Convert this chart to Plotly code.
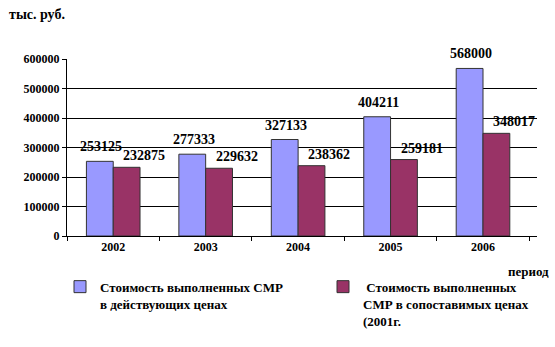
import plotly.graph_objects as go

years = ["2002", "2003", "2004", "2005", "2006"]
current_prices = [253125, 277333, 327133, 404211, 568000]
comparable_prices = [232875, 229632, 238362, 259181, 348017]
name_current = "<b>Стоимость выполненных СМР<br>в действующих ценах</b>"
name_comparable = "<b> Стоимость выполненных<br>СМР в сопоставимых ценах<br>(2001г.</b>"

FONT = "Liberation Serif"
fig = go.Figure()
fig.add_bar(x=years, y=current_prices, name=name_current, legend="legend",
            marker=dict(color="#9999FF", line=dict(color="#333333", width=1)))
fig.add_bar(x=years, y=comparable_prices, name=name_comparable, legend="legend2",
            marker=dict(color="#993366", line=dict(color="#333333", width=1)))

for i, y in enumerate(years):
    fig.add_annotation(x=i, y=current_prices[i], text=f"<b>{current_prices[i]}</b>",
                       showarrow=False, yanchor="bottom", xshift=-12, yshift=5,
                       font=dict(family=FONT, size=14, color="black"))
    fig.add_annotation(x=i, y=comparable_prices[i], text=f"<b>{comparable_prices[i]}</b>",
                       showarrow=False, yanchor="bottom", xshift=31, yshift=2,
                       font=dict(family=FONT, size=14, color="black"))

fig.add_annotation(xref="paper", yref="paper", x=-0.128, y=1.254, xanchor="left", yanchor="middle",
                   text="<b>тыс. руб.</b>", showarrow=False,
                   font=dict(family=FONT, size=14, color="black"))
fig.add_annotation(xref="paper", yref="paper", x=1.03, y=-0.203, xanchor="right", yanchor="middle",
                   text="<b>период</b>", showarrow=False,
                   font=dict(family=FONT, size=13, color="black"))

leg_common = dict(xref="container", yref="container", xanchor="left", yanchor="top",
                  valign="top", font=dict(family=FONT, size=13, color="black"),
                  bgcolor="rgba(0,0,0,0)")
fig.update_layout(
    width=555, height=347,
    margin=dict(l=67, r=18, t=59, b=111, autoexpand=False),
    paper_bgcolor="white", plot_bgcolor="white",
    barmode="group", bargap=0.42, bargroupgap=0,
    font=dict(family=FONT, color="black"),
    showlegend=True,
    legend=dict(x=60 / 555, y=0.217, **leg_common),
    legend2=dict(x=323 / 555, y=0.217, **leg_common),
    xaxis=dict(showline=True, linecolor="black", linewidth=1, ticks="outside",
               tickson="boundaries", ticklen=4, tickcolor="black",
               tickfont=dict(family=FONT, size=12, color="black"), tickprefix="<b>", ticksuffix="</b>"),
    yaxis=dict(range=[0, 600000], dtick=100000, showline=True, linecolor="black", linewidth=1,
               ticks="outside", ticklen=4, tickcolor="black", showgrid=True, gridcolor="black",
               gridwidth=1, tickformat="d", zeroline=False,
               tickfont=dict(family=FONT, size=12, color="black"), tickprefix="<b>", ticksuffix="</b>"),
)
fig.write_html("out.html")
